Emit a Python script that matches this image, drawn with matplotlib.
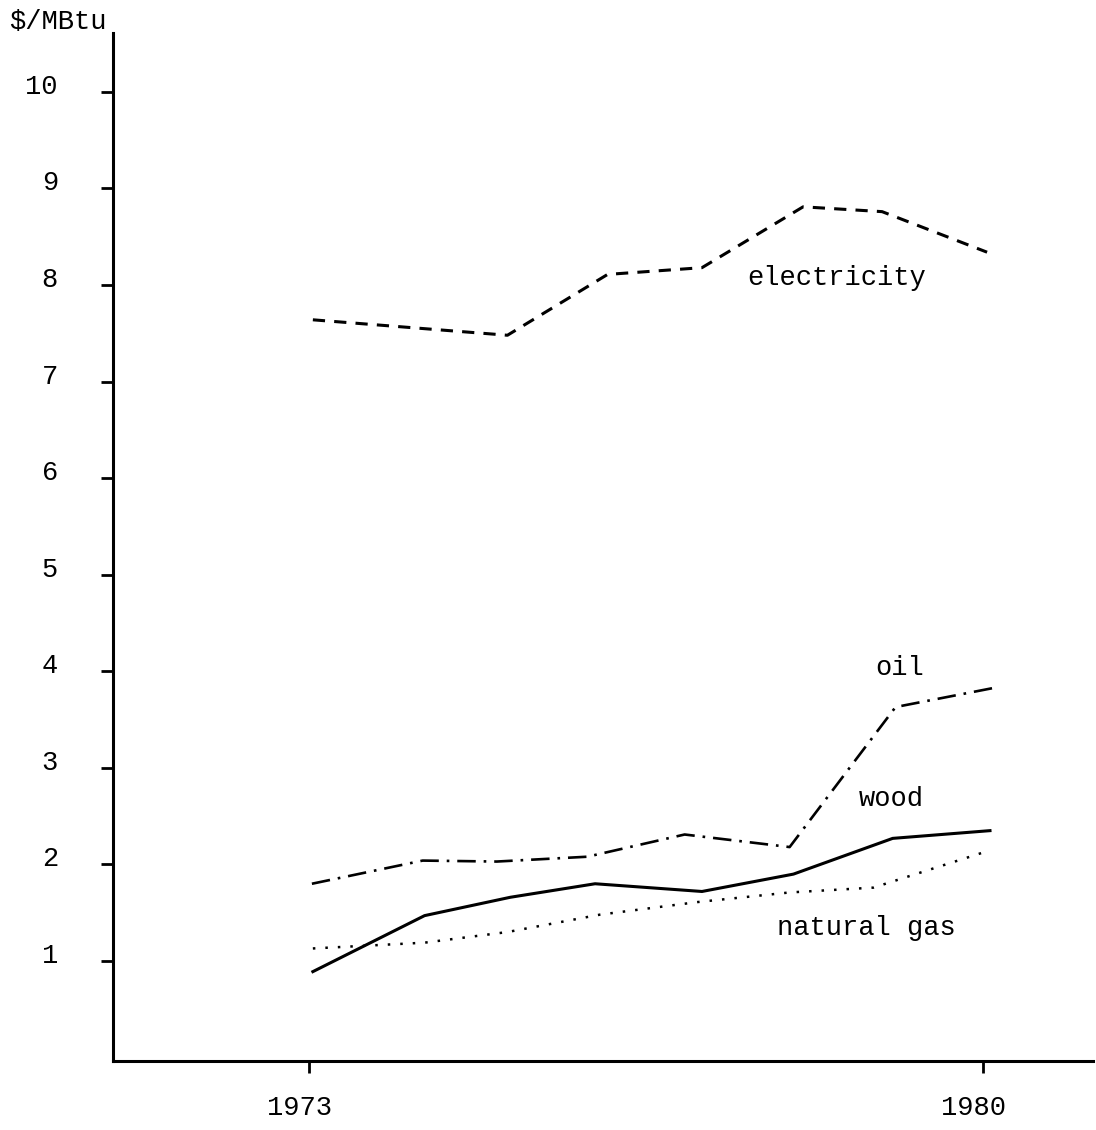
import matplotlib
matplotlib.use("Agg")
import matplotlib.pyplot as plt
from matplotlib.transforms import ScaledTranslation

# values ($/MBtu)
elec_x = [1973.04, 1975.06, 1976.10, 1977.08, 1978.13, 1978.95, 1980.04]
elec_y = [7.64, 7.48, 8.11, 8.18, 8.81, 8.76, 8.34]

oil_x = [1973.03, 1974.18, 1974.95, 1975.89, 1976.90, 1977.99, 1979.09, 1980.12]
oil_y = [1.80, 2.04, 2.03, 2.08, 2.31, 2.18, 3.63, 3.83]

wood_x = [1973.04, 1974.20, 1975.09, 1975.97, 1977.08, 1978.03, 1979.06, 1980.07]
wood_y = [0.89, 1.47, 1.66, 1.80, 1.72, 1.90, 2.27, 2.35]

gas_x = [1973.04, 1974.20, 1975.06, 1976.02, 1977.03, 1977.99, 1978.86, 1980.05]
gas_y = [1.13, 1.19, 1.30, 1.48, 1.61, 1.71, 1.76, 2.14]

yticks = [1, 2, 3, 4, 5, 6, 7, 8, 9, 10]
xticks = [1973, 1980]

plt.rcParams['font.family'] = ['Liberation Mono', 'DejaVu Sans Mono']
fs = 19.5

fig = plt.figure(figsize=(10.96, 11.30), dpi=100)
ax = fig.add_axes([0.1031, 0.0611, 0.8942, 0.9097])

ax.plot(elec_x, elec_y, color='black', lw=2.2, linestyle=(0, (4, 3)))
ax.plot(oil_x, oil_y, color='black', lw=1.9, linestyle=(0, (7, 3, 1, 3)))
ax.plot(wood_x, wood_y, color='black', lw=2.2, linestyle='-')
ax.plot(gas_x, gas_y, color='black', lw=1.8, linestyle=(0, (1, 4)))

ax.set_xlim(1970.965, 1981.14)
ax.set_ylim(-0.035, 10.61)

for s in ['top', 'right']:
    ax.spines[s].set_visible(False)
for s in ['left', 'bottom']:
    ax.spines[s].set_linewidth(2.2)

ax.set_yticks(yticks)
ax.set_yticklabels([str(v) for v in yticks])
ax.set_xticks(xticks)
ax.set_xticklabels([str(v) for v in xticks])
ax.tick_params(axis='y', direction='out', length=8.6, width=2, pad=31, labelsize=fs)
ax.tick_params(axis='x', direction='out', length=8.6, width=2, pad=16, labelsize=fs)

# hand-lettered labels sit slightly off their ticks
for lab in ax.get_yticklabels():
    lab.set_transform(lab.get_transform() + ScaledTranslation(0, 0.08, fig.dpi_scale_trans))
for lab in ax.get_xticklabels():
    lab.set_transform(lab.get_transform() + ScaledTranslation(-0.10, 0, fig.dpi_scale_trans))

ax.text(1978.48, 8.07, 'electricity', fontsize=fs, ha='center', va='center')
ax.text(1979.13, 4.03, 'oil', fontsize=fs, ha='center', va='center')
ax.text(1979.05, 2.68, 'wood', fontsize=fs, ha='center', va='center')
ax.text(1978.79, 1.34, 'natural gas', fontsize=fs, ha='center', va='center')
ax.text(1970.39, 10.72, '$/MBtu', fontsize=fs, ha='center', va='center', clip_on=False)

fig.savefig('out.png', dpi=100)
